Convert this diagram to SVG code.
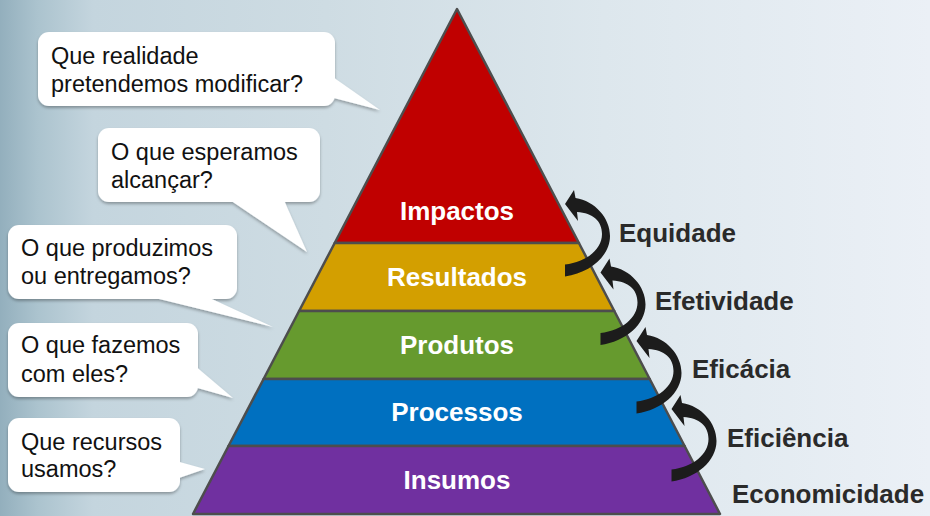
<svg xmlns="http://www.w3.org/2000/svg" width="930" height="516" viewBox="0 0 930 516">
<defs>
<linearGradient id="bg" x1="0" y1="0" x2="1" y2="0">
<stop offset="0" stop-color="#93afbd"/>
<stop offset="0.04" stop-color="#abc3ce"/>
<stop offset="0.1" stop-color="#c4d5de"/>
<stop offset="0.35" stop-color="#cedce3"/>
<stop offset="0.65" stop-color="#dde7ed"/>
<stop offset="1" stop-color="#ebf0f6"/>
</linearGradient>
<filter id="sh" x="-10%" y="-10%" width="120%" height="130%">
<feDropShadow dx="0" dy="2" stdDeviation="1.5" flood-color="#000" flood-opacity="0.3"/>
</filter>
<path id="arr" d="M 0,-67 L 9,-81 L 10.5,-73 C 30,-70 45,-53 45,-35 C 45,-15 25,2 0,5.5 L 0,-6.5 C 22,-9 37,-22 37,-37 C 37,-50 28,-58 12,-59 L 13,-50 Z"/>
</defs>
<style>
.cb{fill:#fff}
.ct{font-family:"Liberation Sans",Arial,sans-serif;font-size:23.5px;fill:#111}
.band{stroke:#4d4d4d;stroke-width:2.5;stroke-linejoin:round}
.pl{font-family:"Liberation Sans",Arial,sans-serif;font-size:26px;font-weight:bold;fill:#fff;text-anchor:middle}
.rl{font-family:"Liberation Sans",Arial,sans-serif;font-size:26px;font-weight:bold;fill:#2a2a2a}
.ar{fill:#1c1c1c}
</style>
<rect x="0" y="0" width="930" height="516" fill="url(#bg)"/>

<g id="pyramid">
<g id="impactos">
<polygon class="band" fill="#c00000" points="457,9 578.9,243 334.7,243"/>
<text class="pl" x="457" y="220">Impactos</text>
</g>
<g id="resultados">
<polygon class="band" fill="#d39f00" points="334.7,243 578.9,243 614.3,311 299.1,311"/>
<text class="pl" x="457" y="286">Resultados</text>
</g>
<g id="produtos">
<polygon class="band" fill="#669a2e" points="299.1,311 614.3,311 649.7,379 263.6,379"/>
<text class="pl" x="457" y="354">Produtos</text>
</g>
<g id="processos">
<polygon class="band" fill="#0070c0" points="263.6,379 649.7,379 684.6,446 228.5,446"/>
<text class="pl" x="457" y="421">Processos</text>
</g>
<g id="insumos">
<polygon class="band" fill="#7030a0" points="228.5,446 684.6,446 720,514 193,514"/>
<text class="pl" x="457" y="489">Insumos</text>
</g>
</g>

<g id="connectors">
<use href="#arr" class="ar" transform="translate(565,271)"/>
<use href="#arr" class="ar" transform="translate(600.5,339.5)"/>
<use href="#arr" class="ar" transform="translate(636.5,408)"/>
<use href="#arr" class="ar" transform="translate(671.5,476)"/>
</g>

<g id="equidade"><text class="rl" x="619" y="242">Equidade</text></g>
<g id="efetividade"><text class="rl" x="655" y="310">Efetividade</text></g>
<g id="eficacia"><text class="rl" x="692" y="378">Eficácia</text></g>
<g id="eficiencia"><text class="rl" x="727" y="447">Eficiência</text></g>
<g id="economicidade"><text class="rl" x="732" y="503">Economicidade</text></g>

<g id="callout1">
<g filter="url(#sh)">
<rect class="cb" x="38" y="32" width="297" height="74" rx="11"/>
<polygon class="cb" points="330,75 380,110 330,97"/>
</g>
<text class="ct" x="51" y="64">Que realidade</text>
<text class="ct" x="51" y="92">pretendemos modificar?</text>
</g>
<g id="callout2">
<g filter="url(#sh)">
<rect class="cb" x="98" y="128" width="222" height="74" rx="11"/>
<polygon class="cb" points="227,198 307,252 283,198"/>
</g>
<text class="ct" x="111" y="160">O que esperamos</text>
<text class="ct" x="111" y="188">alcançar?</text>
</g>
<g id="callout3">
<g filter="url(#sh)">
<rect class="cb" x="8" y="225" width="229" height="74" rx="11"/>
<polygon class="cb" points="143,295 273,327 203,295"/>
</g>
<text class="ct" x="21" y="256">O que produzimos</text>
<text class="ct" x="21" y="284">ou entregamos?</text>
</g>
<g id="callout4">
<g filter="url(#sh)">
<rect class="cb" x="8" y="323" width="190" height="74" rx="11"/>
<polygon class="cb" points="194,365 233,398 194,387"/>
</g>
<text class="ct" x="21" y="353">O que fazemos</text>
<text class="ct" x="21" y="382">com eles?</text>
</g>
<g id="callout5">
<g filter="url(#sh)">
<rect class="cb" x="8" y="418" width="172" height="74" rx="11"/>
<polygon class="cb" points="176,461 205,469 176,479"/>
</g>
<text class="ct" x="21" y="450">Que recursos</text>
<text class="ct" x="21" y="477">usamos?</text>
</g>
</svg>
